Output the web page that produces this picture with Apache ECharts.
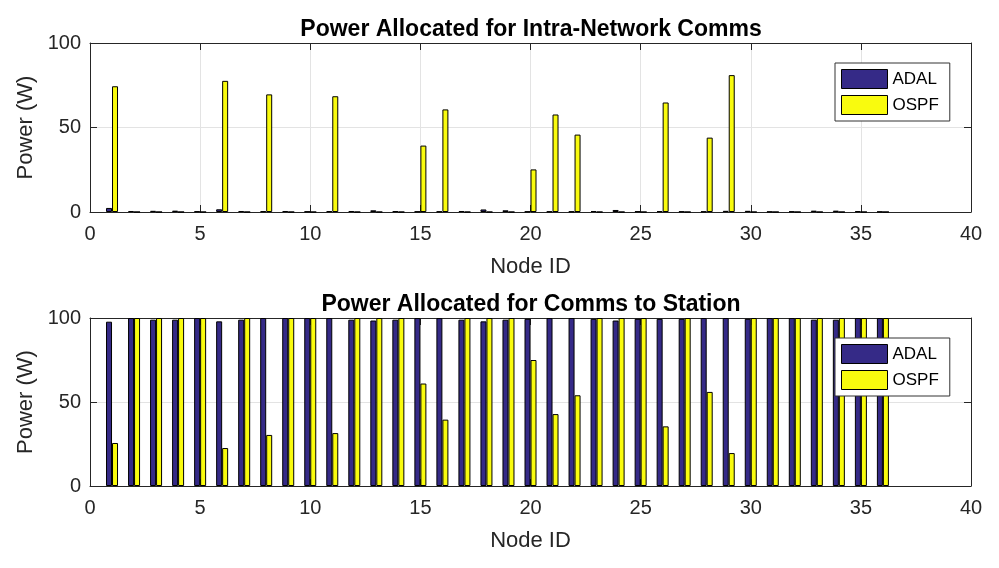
<!DOCTYPE html>
<html>
<head>
<meta charset="utf-8">
<script src="https://cdn.jsdelivr.net/npm/echarts@6/dist/echarts.min.js"></script>
<style>
  html, body { margin: 0; padding: 0; background: #fff; }
  #chart { width: 999px; height: 568px; }
</style>
</head>
<body>
<div id="chart"></div>
<script>
// node ids 1..36
const nodeIds = [1,2,3,4,5,6,7,8,9,10,11,12,13,14,15,16,17,18,19,20,21,22,23,24,25,26,27,28,29,30,31,32,33,34,35,36];

// top plot: intra-network comms power (W)
const intraAdal = [2.4,0.6,0.7,0.8,0.4,1.6,0.6,0.5,0.6,0.3,0.5,0.6,1.0,0.5,0.3,0.3,0.6,1.5,1.0,0.3,0.3,0.3,0.6,1.2,0.4,0.5,0.3,0.3,0.7,0.7,0.2,0.3,0.8,0.8,0.5,0.2];
const intraOspf = [74.4,0,0,0,0,77.6,0,69.6,0,0,68.5,0,0,0,39.3,60.7,0,0,0,25.2,57.7,45.8,0,0,0,64.8,0,44,81,0,0,0,0,0,0,0];

// bottom plot: comms to station power (W)
const stationAdal = [97.8,100,99,99,100,98,99,100,100,100,100,99,98.5,99,100,100,99,98,99,99.5,100,100,99.5,98.5,99.5,99.5,99.5,100,100,99.5,100,100,99,99,100,100];
const stationOspf = [25.6,100,100,100,100,22.6,100,30.4,100,100,31.5,100,100,100,61,39.5,100,100,100,75,42.8,54,100,100,100,35.5,100,56,19.6,100,100,100,100,100,100,100];

const xTicks = [0, 5, 10, 15, 20, 25, 30, 35, 40];
const yTicks = [0, 50, 100];
const titles = ["Power Allocated for Intra-Network Comms", "Power Allocated for Comms to Station"];

const blue = "#352A87", yellow = "#F9FB0E";
const axisCol = "#262626", gridCol = "#e3e3e3";
const font = "Liberation Sans";

let myChart = echarts.init(document.getElementById("chart"), null, { renderer: "canvas" });

function pairs(vals) {
  return nodeIds.map(function (id, i) { return [id, vals[i]]; });
}

const grids = [
  { left: 90, right: 28, top: 43, height: 169 },
  { left: 90, right: 28, top: 318, height: 168 }
];

let xAxes = [], yAxes = [], series = [], legends = [], titleList = [];

grids.forEach(function (g, i) {
  xAxes.push({
    gridIndex: i, type: "value", position: "bottom",
    min: xTicks[0], max: xTicks[xTicks.length - 1], interval: 5,
    name: "Node ID", nameLocation: "middle", nameGap: 44,
    nameTextStyle: { fontFamily: font, fontSize: 22, color: axisCol },
    axisLine: { show: true, onZero: false, lineStyle: { color: axisCol } },
    axisTick: { show: true, inside: true, length: 7, lineStyle: { color: axisCol } },
    axisLabel: { fontFamily: font, fontSize: 20, color: axisCol, margin: 12 },
    splitLine: { show: true, lineStyle: { color: gridCol } }
  });
  xAxes.push({
    gridIndex: i, type: "value", position: "top",
    min: xTicks[0], max: xTicks[xTicks.length - 1], interval: 5,
    axisLine: { show: true, onZero: false, lineStyle: { color: axisCol } },
    axisTick: { show: true, inside: true, length: 7, lineStyle: { color: axisCol } },
    axisLabel: { show: false },
    splitLine: { show: false }
  });
  yAxes.push({
    gridIndex: i, type: "value", position: "left",
    min: yTicks[0], max: yTicks[yTicks.length - 1], interval: 50,
    name: "Power (W)", nameLocation: "middle", nameGap: 49,
    nameTextStyle: { fontFamily: font, fontSize: 22, color: axisCol },
    axisLine: { show: true, onZero: false, lineStyle: { color: axisCol } },
    axisTick: { show: true, inside: true, length: 7, lineStyle: { color: axisCol } },
    axisLabel: { fontFamily: font, fontSize: 20, color: axisCol, margin: 9 },
    splitLine: { show: true, lineStyle: { color: gridCol } }
  });
  yAxes.push({
    gridIndex: i, type: "value", position: "right",
    min: yTicks[0], max: yTicks[yTicks.length - 1], interval: 50,
    axisLine: { show: true, onZero: false, lineStyle: { color: axisCol } },
    axisTick: { show: true, inside: true, length: 7, lineStyle: { color: axisCol } },
    axisLabel: { show: false },
    splitLine: { show: false }
  });

  titleList.push({
    text: titles[i], left: 526, top: i === 0 ? 13 : 288, textAlign: "center",
    textStyle: { fontFamily: font, fontSize: 23, fontWeight: "bold", color: "#000" }
  });

  // legend on its own layer so it covers the bars like in the original
  legends.push({
    data: ["ADAL", "OSPF"], orient: "vertical",
    left: 835, top: i === 0 ? 63 : 338,
    zlevel: 1, z: 20,
    icon: "rect",
    itemWidth: 46, itemHeight: 19, itemGap: 6,
    padding: [6, 11, 6, 6],
    itemStyle: { borderColor: "#000", borderWidth: 1 },
    backgroundColor: "#fff", borderColor: "#333", borderWidth: 1, borderRadius: 0,
    textStyle: { fontFamily: font, fontSize: 17, color: "#000", lineHeight: 19 },
    selectedMode: false
  });
});

const seriesData = [[intraAdal, intraOspf], [stationAdal, stationOspf]];
seriesData.forEach(function (pair, i) {
  series.push({
    name: "ADAL", type: "bar", xAxisIndex: i * 2, yAxisIndex: i * 2,
    barWidth: 6, barGap: "0%",
    itemStyle: { color: blue, borderColor: "#000", borderWidth: 1 },
    data: pairs(pair[0])
  });
  series.push({
    name: "OSPF", type: "bar", xAxisIndex: i * 2, yAxisIndex: i * 2,
    barWidth: 6, barGap: "0%",
    itemStyle: { color: yellow, borderColor: "#000", borderWidth: 1 },
    data: pairs(pair[1])
  });
});

let option = {
  animation: false,
  backgroundColor: "#fff",
  title: titleList,
  legend: legends,
  grid: grids,
  xAxis: xAxes,
  yAxis: yAxes,
  series: series
};

myChart.setOption(option);
window.addEventListener("resize", myChart.resize);
</script>
</body>
</html>
